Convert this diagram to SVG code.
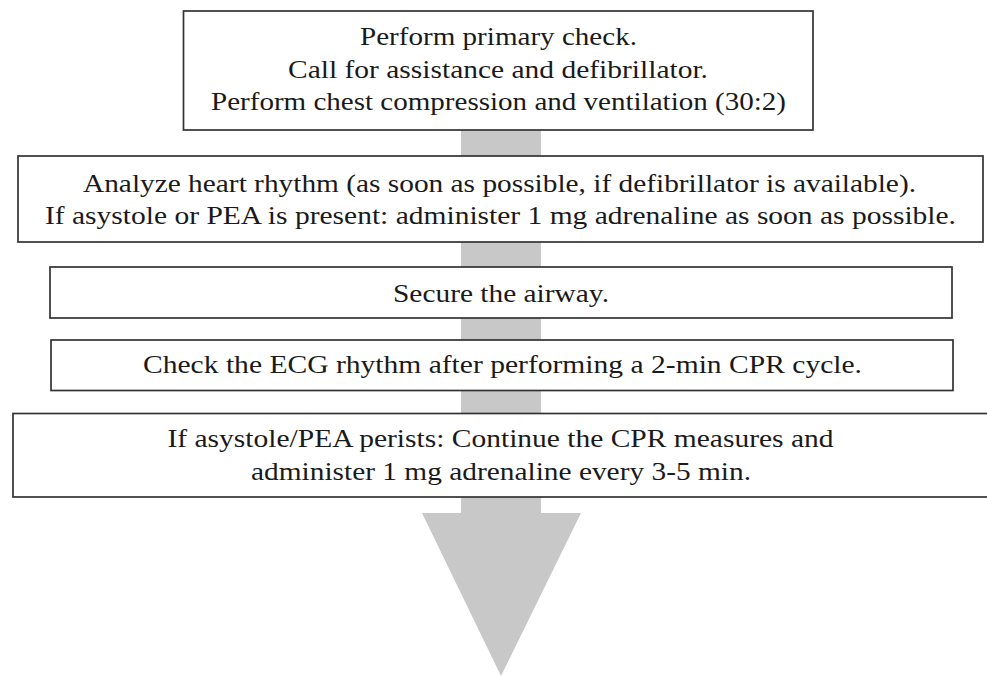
<svg xmlns="http://www.w3.org/2000/svg" width="987" height="676" viewBox="0 0 987 676">
  <style>
    .box { fill: #ffffff; stroke: #333333; stroke-width: 1.7; }
    .t { font-family: "Liberation Serif", "Times New Roman", serif; font-size: 26px; fill: #1a1a1a; text-anchor: middle; }
    .arrow { fill: #c8c8c8; stroke: none; }
  </style>
  <rect x="0" y="0" width="987" height="676" fill="#ffffff"/>
  <g id="connectors">
    <polygon class="arrow" points="461,130 541,130 541,513 581,513 501,676 422,513 461,513"/>
  </g>
  <g id="node1">
    <rect class="box" x="183.5" y="11" width="629.5" height="119"/>
    <text class="t" x="498.5" y="45" textLength="277" lengthAdjust="spacingAndGlyphs">Perform primary check.</text>
    <text class="t" x="498" y="78" textLength="420" lengthAdjust="spacingAndGlyphs">Call for assistance and defibrillator.</text>
    <text class="t" x="498.5" y="110" textLength="575" lengthAdjust="spacingAndGlyphs">Perform chest compression and ventilation (30:2)</text>
  </g>
  <g id="node2">
    <rect class="box" x="18" y="156" width="965" height="86"/>
    <text class="t" x="499.5" y="192" textLength="833" lengthAdjust="spacingAndGlyphs">Analyze heart rhythm (as soon as possible, if defibrillator is available).</text>
    <text class="t" x="500.5" y="224" textLength="911" lengthAdjust="spacingAndGlyphs">If asystole or PEA is present: administer 1 mg adrenaline as soon as possible.</text>
  </g>
  <g id="node3">
    <rect class="box" x="50" y="267" width="902" height="51"/>
    <text class="t" x="501" y="302" textLength="216" lengthAdjust="spacingAndGlyphs">Secure the airway.</text>
  </g>
  <g id="node4">
    <rect class="box" x="51" y="340" width="902" height="50.5"/>
    <text class="t" x="502.5" y="373" textLength="719" lengthAdjust="spacingAndGlyphs">Check the ECG rhythm after performing a 2-min CPR cycle.</text>
  </g>
  <g id="node5">
    <rect class="box" x="13" y="413.5" width="990" height="83.5"/>
    <text class="t" x="500.5" y="447" textLength="666" lengthAdjust="spacingAndGlyphs">If asystole/PEA perists: Continue the CPR measures and</text>
    <text class="t" x="501" y="480" textLength="500" lengthAdjust="spacingAndGlyphs">administer 1 mg adrenaline every 3-5 min.</text>
  </g>
</svg>
